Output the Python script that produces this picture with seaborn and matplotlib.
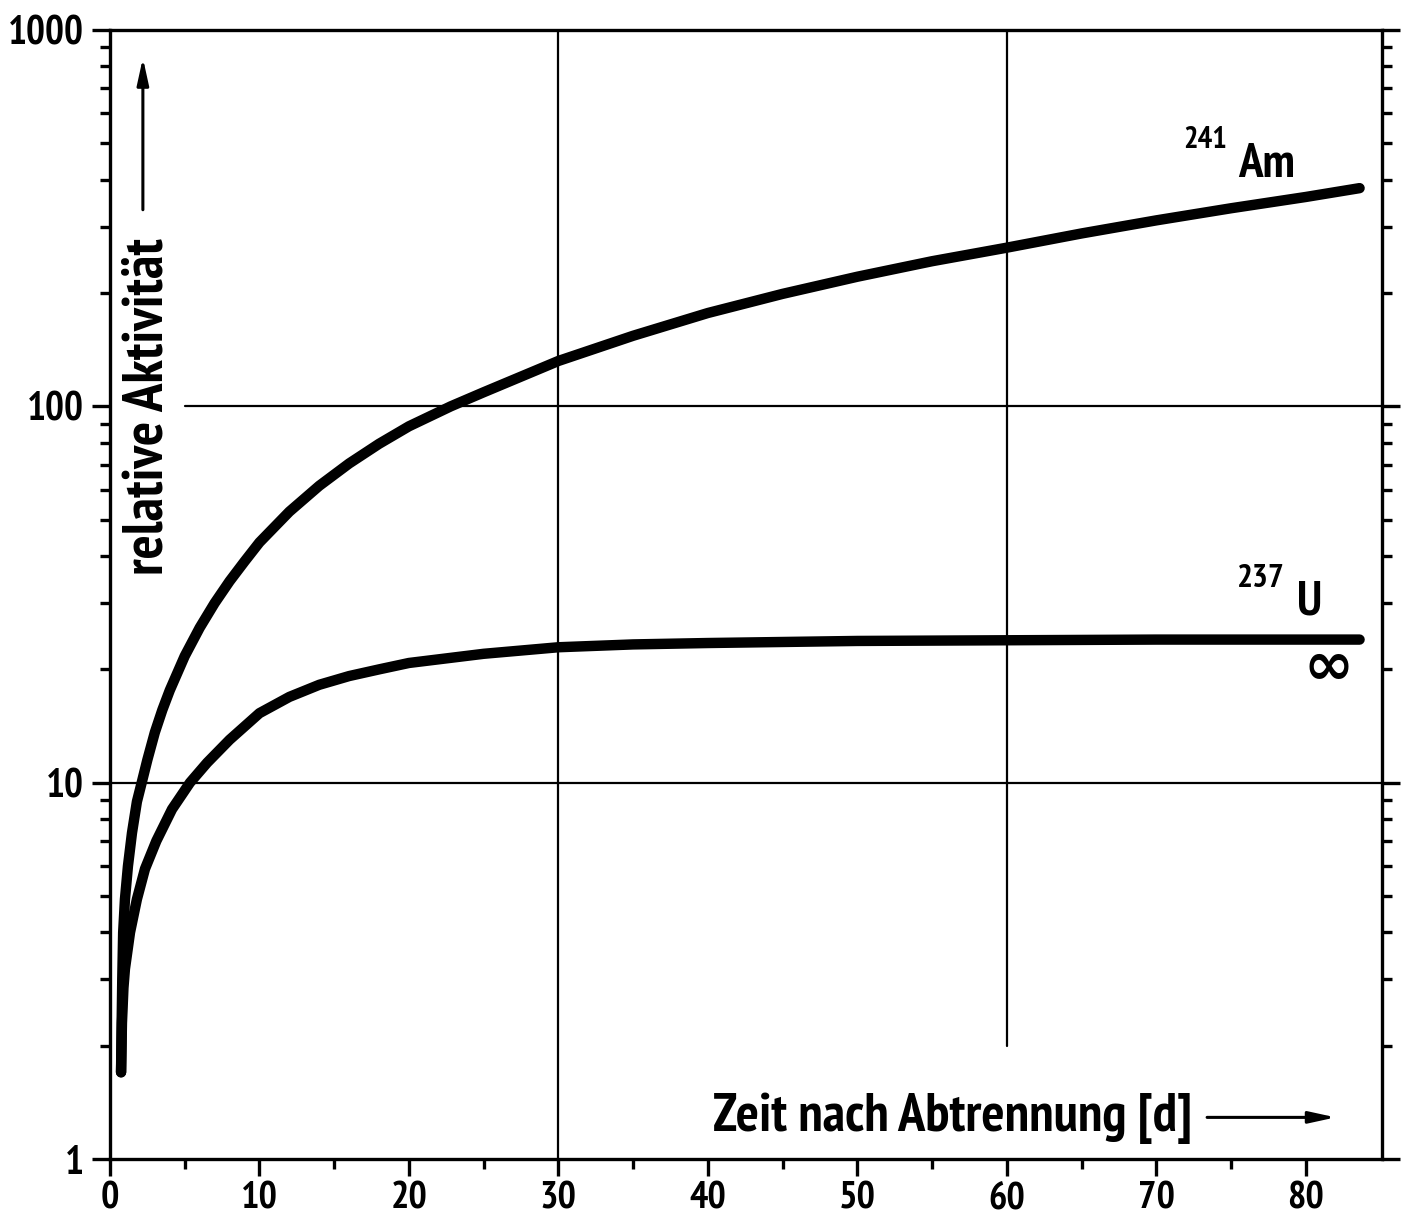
import numpy as np
import pandas as pd
import matplotlib
matplotlib.use("Agg")
import matplotlib.pyplot as plt
import seaborn as sns
from matplotlib import font_manager
from matplotlib.font_manager import FontProperties
from matplotlib.ticker import FixedLocator, NullFormatter

# ---- data ----
am_days = [0.74, 0.78, 0.82, 0.88, 1.0, 1.2, 1.47, 1.8, 2.12, 2.5, 3, 3.5, 4, 5, 6, 7, 8, 9, 10,
           12, 14, 16, 18, 20, 22.8, 25, 30, 35, 40, 45, 50, 55, 60, 65, 70, 75, 80, 83.6]
am_vals = [1.7, 2.3, 3.0, 4.0, 4.9, 6.0, 7.35, 8.9, 10.0, 11.5, 13.6, 15.6, 17.6, 21.7, 25.8,
           30.0, 34.3, 38.7, 43.5, 52.5, 61.5, 70.5, 79.5, 88.5, 100, 109, 132, 154, 177, 199,
           221, 243, 264, 288, 312, 336, 360, 380]
u_days = [0.74, 0.8, 0.9, 1.0, 1.34, 1.8, 2.34, 3.1, 4.15, 5.35, 6.5, 8, 10, 12, 14, 16, 18, 20,
          25, 30, 35, 40, 50, 60, 70, 83.6]
u_vals = [1.7, 2.3, 2.85, 3.2, 4.0, 4.9, 5.9, 7.0, 8.5, 10.0, 11.3, 13.0, 15.3, 16.9, 18.2, 19.2,
          20.0, 20.8, 22.0, 22.9, 23.3, 23.5, 23.8, 23.9, 24.0, 24.0]

x_ticks = [0, 10, 20, 30, 40, 50, 60, 70, 80]
x_minor = [5, 15, 25, 35, 45, 55, 65, 75]
y_ticks = [1, 10, 100, 1000]
y_ticklabels = ["1", "10", "100", "1000"]
x_label = "Zeit nach Abtrennung [d]"
y_label = "relative Aktivität"

df = pd.concat([
    pd.DataFrame({"t": am_days, "a": am_vals, "nuclide": "241Am"}),
    pd.DataFrame({"t": u_days, "a": u_vals, "nuclide": "237U"}),
])

sns.set_style("ticks")
plt.rcParams["font.family"] = ["DejaVu Sans"]
for k in ["text.color", "axes.labelcolor", "xtick.color", "ytick.color", "axes.edgecolor"]:
    plt.rcParams[k] = "black"


# ---- choose a narrow bold sans font, if one is installed ----
def _num(v, table):
    if isinstance(v, str):
        return table.get(v, 500 if table is font_manager.stretch_dict else 400)
    return v


def pick_font():
    best, best_score = None, None
    fams = ["Liberation Sans Narrow", "Noto Sans", "Noto Sans Condensed", "Noto Sans ExtraCondensed",
            "Noto Sans SemiCondensed", "Roboto Condensed", "Open Sans", "Open Sans Condensed",
            "DejaVu Sans", "DejaVu Sans Condensed", "Roboto", "Lato", "Inter", "Liberation Sans"]
    for f in font_manager.fontManager.ttflist:
        if f.name not in fams and not any(s in f.name for s in ("Narrow", "Condensed")):
            continue
        if "Mono" in f.name or "Serif" in f.name or f.style != "normal":
            continue
        st = _num(f.stretch, font_manager.stretch_dict)
        w = _num(f.weight, font_manager.weight_dict)
        if "Narrow" in f.name or "ExtraCondensed" in f.name:
            st = min(st, 250)
        elif "SemiCondensed" in f.name:
            st = min(st, 400)
        elif "Condensed" in f.name:
            st = min(st, 300)
        score = abs(st - 220) + 0.5 * abs(w - 650)
        if best_score is None or score < best_score:
            best, best_score = f.fname, score
    return best


font_path = pick_font()


def fp(size):
    if font_path:
        return FontProperties(fname=font_path, size=size)
    return FontProperties(family="DejaVu Sans", weight="bold", size=size)


fig = plt.figure(figsize=(14.07, 12.27), dpi=100)
ax = fig.add_axes([110 / 1407, 1 - 1159 / 1227, (1382 - 110) / 1407, (1159 - 30) / 1227])

sns.lineplot(data=df, x="t", y="a", units="nuclide", estimator=None, color="black",
             linewidth=7.5, sort=False, ax=ax, legend=False,
             solid_capstyle="round", solid_joinstyle="round")

ax.set_yscale("log")
ax.set_xlim(0, 85.1)
ax.set_ylim(1, 1000)

# grid lines (partial, as in the reference)
glw = 1.6
ax.axhline(10, color="black", lw=glw, zorder=1)
ax.axhline(100, xmin=5.0 / 85.1, color="black", lw=glw, zorder=1)
ax.axvline(30, color="black", lw=glw, zorder=1)
ax.axvline(60, ymin=np.log10(2.0) / 3, color="black", lw=glw, zorder=1)

# ticks
ax.set_xticks(x_ticks)
ax.set_xticklabels([str(v) for v in x_ticks])
ax.xaxis.set_minor_locator(FixedLocator(x_minor))
ax.set_yticks(y_ticks)
ax.set_yticklabels(y_ticklabels)
ax.yaxis.set_minor_locator(FixedLocator([m * 10 ** e for e in range(0, 3) for m in range(2, 10)]))
ax.yaxis.set_minor_formatter(NullFormatter())

ax.tick_params(axis="x", which="major", direction="out", length=12, width=2.4, pad=4,
               bottom=True, top=False)
ax.tick_params(axis="x", which="minor", direction="out", length=7, width=2.4, bottom=True, top=False)
ax.tick_params(axis="y", which="major", direction="out", length=13, width=2.4, pad=6,
               left=True, right=True)
ax.tick_params(axis="y", which="minor", direction="out", length=7, width=2.4, left=True, right=True)

for s in ax.spines.values():
    s.set_linewidth(2.4)
    s.set_color("black")
    s.set_visible(True)

ax.set_xlabel("")
ax.set_ylabel("")

arrow_style = dict(arrowstyle="-|>,head_length=1.6,head_width=0.35", color="black",
                   lw=2.2, shrinkA=0, shrinkB=0)

# axis labels inside the plot with arrows
t_ylab = ax.text(2.55, 100, y_label, rotation=90, ha="center", va="center", fontproperties=fp(30))
ax.annotate("", xy=(2.2, 843), xytext=(2.2, 333), arrowprops=arrow_style)
t_xlab = ax.text(56.4, 1.285, x_label, ha="center", va="center", fontproperties=fp(30))
ax.annotate("", xy=(82.0, 1.29), xytext=(73.4, 1.29), arrowprops=arrow_style)

# curve labels
t241 = ax.text(71.8, 486, "241", ha="left", va="baseline", fontproperties=fp(26))
tAm = ax.text(75.5, 407, "Am", ha="left", va="baseline", fontproperties=fp(34))
t237 = ax.text(75.4, 33.1, "237", ha="left", va="baseline", fontproperties=fp(26))
tU = ax.text(79.4, 27.9, "U", ha="left", va="baseline", fontproperties=fp(34))
tinf = ax.text(81.5, 20.2, "∞", ha="center", va="center",
               fontproperties=FontProperties(family="DejaVu Sans", weight="bold", size=40))

# ---- fit text sizes to the widths seen in the reference ----
fig.canvas.draw()
renderer = fig.canvas.get_renderer()


def width_of(t):
    bb = t.get_window_extent(renderer)
    return bb.height if t.get_rotation() == 90 else bb.width


def fit(t, target, max_size=None):
    w = width_of(t)
    size = t.get_fontsize() * target / max(w, 1)
    if max_size:
        size = min(size, max_size)
    t.set_fontsize(size)
    return size


# tick label sizes from "1000" (about 74 px wide) and "80" (about 36 px wide)
probe = ax.text(0, 0, "1000", fontproperties=fp(30), transform=fig.transFigure)
ytick_size = fit(probe, 76, max_size=40)
probe.set_text("80")
probe.set_fontsize(30)
xtick_size = fit(probe, 37, max_size=40)
probe.remove()
for lab in ax.get_yticklabels():
    lab.set_fontproperties(fp(ytick_size))
for lab in ax.get_xticklabels():
    lab.set_fontproperties(fp(xtick_size))

fit(t_ylab, 336, max_size=42)
fit(t_xlab, 478, max_size=44)
fit(t241, 44, max_size=30)
fit(t237, 48, max_size=30)
am_size = fit(tAm, 57, max_size=40)
tU.set_fontsize(am_size)
fit(tinf, 50)

fig.savefig("out.png", dpi=100)
